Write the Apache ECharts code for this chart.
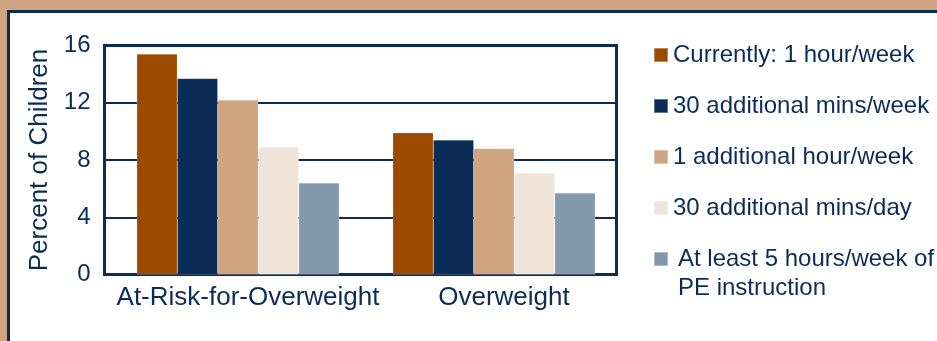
<!DOCTYPE html>
<html><head><meta charset="utf-8">
<script src="https://cdn.jsdelivr.net/npm/echarts@6/dist/echarts.min.js"></script>
<style>html,body{margin:0;padding:0;background:#CFA57F;}#c{width:937px;height:341px;}</style>
</head><body><div id="c"></div>
<script>
const categories = ['At-Risk-for-Overweight', 'Overweight'];
const seriesNames = ['Currently: 1 hour/week', '30 additional mins/week', '1 additional hour/week', '30 additional mins/day', 'At least 5 hours/week of PE instruction'];
const currently1h = [15.4, 9.9];
const add30minWeek = [13.7, 9.4];
const add1hWeek = [12.2, 8.8];
const add30minDay = [8.9, 7.1];
const atLeast5h = [6.4, 5.7];
const yTicks = [0, 4, 8, 12, 16];

const colors = ['#9C4A00', '#0A2C56', '#CFA57F', '#F1E4D9', '#8397AD'];
const navy = '#0A2C56';
const font = 'Liberation Sans, Arial, sans-serif';
const values = [currently1h, add30minWeek, add1hWeek, add30minDay, atLeast5h];

const chart = echarts.init(document.getElementById('c'), null, {renderer: 'canvas'});
chart.setOption({
  backgroundColor: '#CFA57F',
  animation: false,
  graphic: [
    {type: 'rect', z: -10, shape: {x: 8.5, y: 11.5, width: 1000, height: 400}, style: {fill: '#fff', stroke: navy, lineWidth: 3}},
    {type: 'text', left: 678, top: 276, style: {text: 'PE instruction', font: '24px ' + font, fill: navy}}
  ],
  legend: {
    orient: 'vertical', left: 648, top: 38, itemWidth: 14, itemHeight: 14, itemGap: 27,
    icon: 'rect',
    textStyle: {fontSize: 24, fontFamily: font, color: navy},
    formatter: n => n === seriesNames[4] ? 'At least 5 hours/week of' : n,
    data: seriesNames.map((n, i) => i === 4 ? {name: n, textStyle: {padding: [0, 0, 0, 5]}} : n)
  },
  grid: [
    {left: 104.5, top: 45.5, right: 320.5, bottom: 66.5, show: true, borderColor: navy, borderWidth: 3, backgroundColor: 'transparent'},
    {left: 110, top: 45.5, right: 315, bottom: 66.5}
  ],
  xAxis: [
    {type: 'category', gridIndex: 0, data: categories, show: false},
    {type: 'category', gridIndex: 1, data: categories,
     axisLine: {show: false}, axisTick: {show: false},
     axisLabel: {interval: 0, fontSize: 26, fontFamily: font, color: navy, margin: 10, padding: [0, 0, 0, 20]}}
  ],
  yAxis: [
    {type: 'value', gridIndex: 0, min: yTicks[0], max: yTicks[yTicks.length - 1], interval: 4,
     axisLine: {show: false}, axisTick: {show: false},
     axisLabel: {fontSize: 24, fontFamily: font, color: navy, margin: 14},
     splitLine: {lineStyle: {color: navy, width: 2}},
     name: 'Percent of Children', nameLocation: 'middle', nameGap: 47,
     nameTextStyle: {fontSize: 26, fontFamily: font, color: navy}},
    {type: 'value', gridIndex: 1, min: 0, max: 16, interval: 4, show: false}
  ],
  series: seriesNames.map((n, i) => ({
    name: n, type: 'bar', xAxisIndex: 1, yAxisIndex: 1, data: values[i],
    barWidth: 40.5, barGap: '0%',
    itemStyle: {color: colors[i], borderColor: 'rgba(255,255,255,0.35)', borderWidth: 0.5}
  }))
});
</script></body></html>
